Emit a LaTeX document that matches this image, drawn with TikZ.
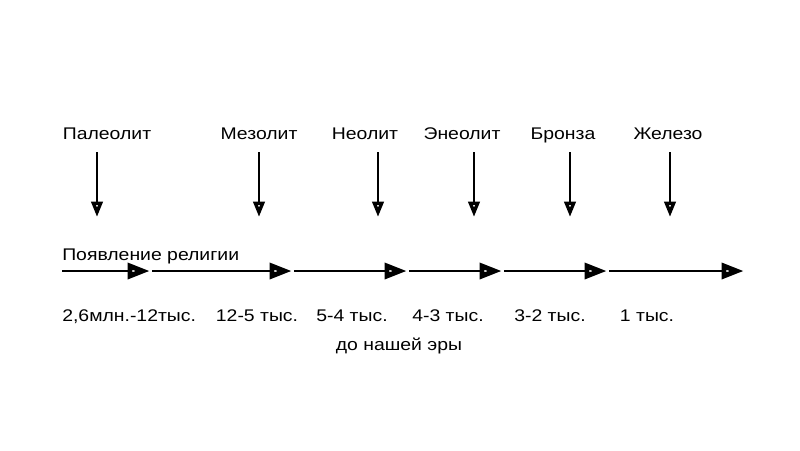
\documentclass[tikz,border=0pt]{standalone}
\usepackage{fontspec}
\setmainfont[FakeStretch=1.15]{Liberation Sans}
\usetikzlibrary{arrows.meta}

\begin{document}
\begin{tikzpicture}[x=0.025cm,y=-0.025cm,
  lbl/.style={font=\fontsize{12}{14}\selectfont, inner sep=0pt, anchor=base},
  stage/.style={black,line width=2pt,-{Triangle[length=16pt,width=11pt,fill=white,line width=3.5pt]}},
  drop/.style={black,line width=1.3pt,-{Triangle[length=11pt,width=8pt,fill=white,line width=2.4pt]}}]
\useasboundingbox (0,0) rectangle (800,450);
% periods
\node [lbl] (pal) at (107,139) {Палеолит};
\node [lbl] (mez) at (259,139) {Мезолит};
\node [lbl] (neo) at (365,139) {Неолит};
\node [lbl] (ene) at (462,139) {Энеолит};
\node [lbl] (bro) at (563,139) {Бронза};
\node [lbl] (zhe) at (668,139) {Железо};
% arrows down
\coordinate (pal1) at (97,152);  \coordinate (pal2) at (97,217);
\coordinate (mez1) at (259,152); \coordinate (mez2) at (259,217);
\coordinate (neo1) at (378,152); \coordinate (neo2) at (378,217);
\coordinate (ene1) at (474,152); \coordinate (ene2) at (474,217);
\coordinate (bro1) at (570,152); \coordinate (bro2) at (570,217);
\coordinate (zhe1) at (670,152); \coordinate (zhe2) at (670,217);
\draw [drop] (pal1) to (pal2);
\draw [drop] (mez1) to (mez2);
\draw [drop] (neo1) to (neo2);
\draw [drop] (ene1) to (ene2);
\draw [drop] (bro1) to (bro2);
\draw [drop] (zhe1) to (zhe2);
% time line
\node [lbl,anchor=base west] (rel) at (62,260) {Появление религии};
\coordinate (t0) at (62,271);
\coordinate (t1) at (150,271);  \coordinate (s1) at (152,271);
\coordinate (t2) at (292,271);  \coordinate (s2) at (294,271);
\coordinate (t3) at (407,271);  \coordinate (s3) at (409,271);
\coordinate (t4) at (502,271);  \coordinate (s4) at (504,271);
\coordinate (t5) at (607,271);  \coordinate (s5) at (609,271);
\coordinate (t6) at (744,271);
\draw [stage] (t0) to (t1);
\draw [stage] (s1) to (t2);
\draw [stage] (s2) to (t3);
\draw [stage] (s3) to (t4);
\draw [stage] (s4) to (t5);
\draw [stage] (s5) to (t6);
% dates
\node [lbl,anchor=base west] (d1) at (62,321) {2,6млн.-12тыс.};
\node [lbl] (d2) at (257,321) {12-5 тыс.};
\node [lbl] (d3) at (352,321) {5-4 тыс.};
\node [lbl] (d4) at (448,321) {4-3 тыс.};
\node [lbl] (d5) at (550,321) {3-2 тыс.};
\node [lbl] (d6) at (647,321) {1 тыс.};
\node [lbl] (bc) at (399,350) {до нашей эры};
\end{tikzpicture}
\end{document}
